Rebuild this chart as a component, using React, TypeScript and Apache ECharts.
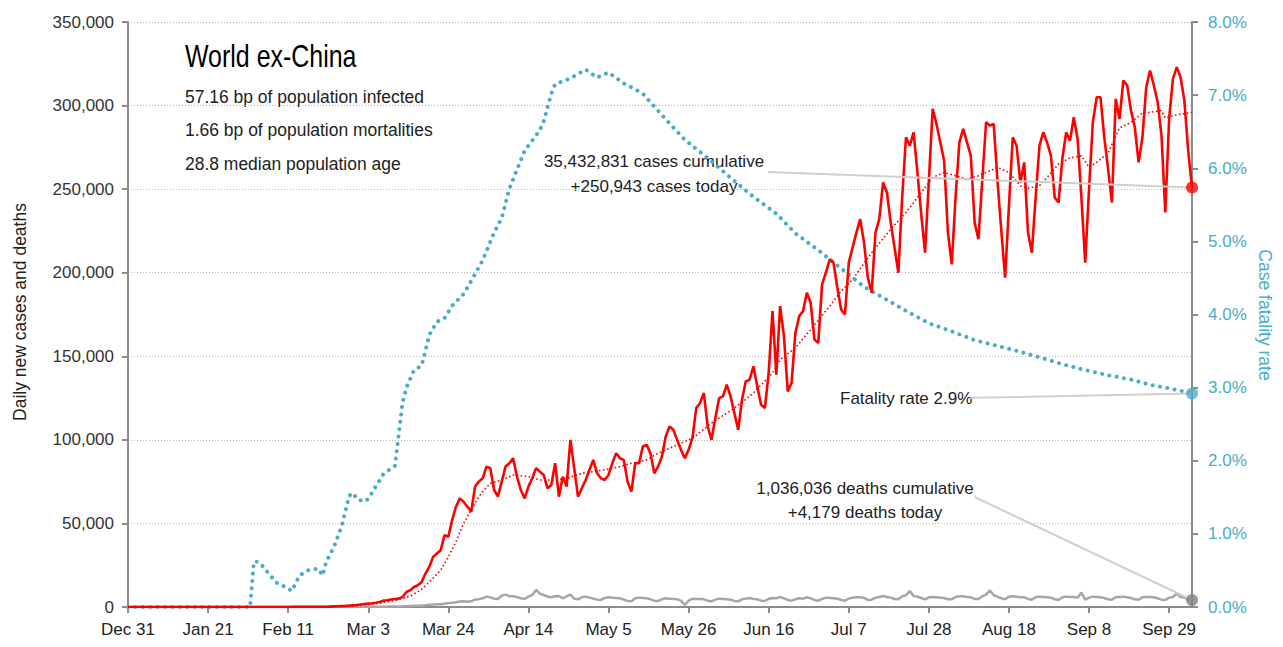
import React, { useEffect, useRef } from "react";
import * as echarts from "echarts";

// ---------- data ----------
// x: days since Dec 31, 2019 (0..279 = Dec 31 .. Oct 5)
const xTickLabels = ["Dec 31", "Jan 21", "Feb 11", "Mar 3", "Mar 24", "Apr 14", "May 5", "May 26", "Jun 16", "Jul 7", "Jul 28", "Aug 18", "Sep 8", "Sep 29"];

const dailyCases = [
  0, 0, 0, 0, 0, 0, 0, 0, 0, 0, 0, 0, 0, 0, 0, 0, 0, 0, 0, 0, 0,
  1, 2, 2, 3, 5, 6, 8, 10, 12, 14, 15,
  15, 20, 20, 25, 25, 30, 30, 35, 35, 40, 40, 45, 45, 50, 50, 55, 60, 60, 70,
  90, 150, 250, 350, 450, 550, 650, 800, 1000, 1200,
  1500, 1800, 2000, 2200, 2500, 3000, 3800, 4000, 4500, 4800, 5000, 6000, 9000, 10000, 12000, 13000, 15000,
  20000, 24000, 30000, 32000, 34000, 43000, 42000, 52000, 60000, 65000, 63000, 60000, 57000,
  72000, 75000, 77000, 84000, 83000, 70000, 66000, 75000, 84000, 86000,
  89000, 78000, 70000, 65000, 72000, 77000, 83000, 81000, 79000, 71000,
  73000, 86000, 66000, 78000, 72000, 100000, 83000, 66000, 71000, 76000,
  82000, 88000, 80000, 77000, 76000, 79000, 86000, 92000, 89000, 88000,
  75000, 69000, 86000, 86000, 96000, 97000, 92000, 80000, 84000, 90000,
  102000, 108000, 106000, 100000, 94000, 89000, 94000, 101000, 119000, 122000,
  128000, 108000, 100000, 113000, 125000, 126000, 133000, 126000, 116000, 106000,
  124000, 135000, 136000, 144000, 132000, 121000, 119000, 140000, 177000, 139000,
  180000, 162000, 129000, 134000, 164000, 174000, 177000, 188000, 182000, 160000,
  158000, 193000, 200000, 208000, 206000, 191000, 178000, 175000, 206000, 215000,
  224000, 232000, 218000, 197000, 188000, 224000, 232000, 254000, 248000, 230000,
  215000, 200000, 245000, 281000, 276000, 284000, 260000, 235000, 212000, 255000,
  298000, 289000, 278000, 267000, 224000, 205000, 245000, 278000, 286000, 278000,
  270000, 230000, 220000, 255000, 290000, 288000, 289000, 255000, 225000, 197000,
  240000, 281000, 276000, 254000, 266000, 224000, 212000, 245000, 276000, 284000,
  278000, 270000, 245000, 242000, 268000, 284000, 279000, 293000, 280000, 245000,
  206000, 250000, 290000, 305000, 305000, 281000, 262000, 242000, 304000, 292000,
  315000, 312000, 297000, 287000, 266000, 281000, 311000, 321000, 312000, 302000,
  282000, 236000, 292000, 316000, 323000, 317000, 303000, 273000, 250943,
];

const dailyDeaths = [
  0, 0, 0, 0, 0, 0, 0, 0, 0, 0, 0, 0, 0, 0, 0, 0, 0, 0, 0, 0, 0, 0, 0, 0, 0,
  0, 0, 0, 0, 0, 0, 0, 0, 0, 0, 0, 0, 0, 0, 0, 0, 0, 0, 0, 0, 0, 0, 0, 0, 0,
  5, 10, 12, 20, 25, 30, 40, 50, 55, 60, 65,
  70, 80, 90, 100, 120, 150, 180, 220, 260, 300,
  350, 400, 500, 600, 700, 800, 950, 1100, 1300, 1500,
  1700, 1600, 2000, 2400, 2500, 2900, 3300, 3500, 3100, 3400,
  4400, 4700, 5200, 6200, 5800, 5000, 4800, 6800, 7400, 6500,
  6500, 6000, 5200, 4800, 6200, 7200, 10200, 8000, 7200, 6300,
  5800, 6400, 6600, 5200, 6400, 7400, 5000, 4600, 5800, 6200,
  5600, 5000, 4400, 4200, 5400, 5800, 5600, 5400, 5200, 4400,
  3600, 3400, 5200, 5600, 5400, 5200, 4600, 3800, 3600, 4600,
  5200, 5000, 4800, 4600, 3800, 1200, 3800, 5000, 4800, 4800,
  4600, 3800, 3400, 4400, 5000, 4800, 4600, 4400, 3600, 3400,
  4600, 5000, 5400, 4800, 4600, 3800, 3600, 4800, 5400, 5200,
  6000, 5200, 4200, 3800, 4600, 5200, 5000, 5800, 5200, 4200,
  3800, 4800, 5600, 5400, 5200, 5000, 4200, 3800, 5000, 5600,
  5800, 5800, 5400, 4200, 4400, 5600, 6000, 6600, 6000, 5600,
  4800, 4600, 6400, 7000, 9600, 6600, 6200, 5400, 4600, 5800,
  6000, 5800, 5600, 5400, 4600, 4600, 6000, 6400, 6400, 6000,
  5800, 4800, 4800, 6400, 7400, 10000, 7000, 6200, 5200, 4600,
  6200, 6400, 6200, 5800, 5800, 4800, 4400, 5800, 6200, 6000,
  5800, 5600, 4600, 4200, 5800, 6200, 6000, 6000, 5600, 8600,
  4400, 5600, 6200, 6000, 5800, 5400, 4600, 4400, 5800, 6000,
  6200, 5800, 5400, 4600, 4400, 5800, 6000, 6000, 5800, 5200,
  4400, 4200, 5600, 6000, 8000, 6000, 5600, 4600, 4179,
];

// 7-day average of cases, read at sampled days: [day, value]
const casesAverage = [
  [0, 0], [50, 0], [58, 300], [62, 1200], [66, 2300], [70, 3800], [74, 6500], [77, 10500], [79, 15000],
  [82, 22000], [84, 30000], [86, 39000], [88, 50000], [90, 58000], [92, 66000], [93, 69000], [95, 74000],
  [98, 76000], [101, 79000], [105, 78000], [108, 76000], [112, 76000], [115, 77000], [119, 80000],
  [122, 81000], [126, 82500], [129, 84000], [132, 86000], [136, 88000], [139, 92000], [144, 97000],
  [148, 101000], [153, 110000], [159, 119000], [164, 128000], [169, 140000], [171, 148000], [175, 155000],
  [179, 166000], [184, 180000], [187, 189000], [190, 196000], [195, 212000], [200, 226000], [204, 236000],
  [207, 245000], [209, 251000], [211, 257000], [214, 260000], [217, 258000], [220, 256000], [223, 258000],
  [226, 261000], [228, 263000], [231, 260000], [234, 252000], [236, 250500], [239, 252000], [241, 257000],
  [244, 265000], [247, 268600], [250, 270000], [252, 263000], [254, 266000], [257, 271600], [260, 286600],
  [263, 290000], [266, 295600], [268, 296000], [271, 297000], [272, 292600], [274, 294000], [279, 296000],
];

// case fatality rate (%), read at sampled days: [day, percent]
const fatalityRate = [
  [0, 0], [32, 0], [33, 0.62], [34, 0.62], [35, 0.58], [37, 0.45], [39, 0.33], [41, 0.28], [43, 0.22],
  [44, 0.33], [45, 0.43], [47, 0.5], [49, 0.52], [50, 0.52], [51, 0.43], [52, 0.62], [54, 0.82], [56, 1.1],
  [58, 1.52], [59, 1.56], [60, 1.48], [62, 1.44], [63, 1.48], [65, 1.65], [67, 1.82], [70, 1.93], [72, 2.8],
  [73, 3.0], [75, 3.24], [77, 3.3], [79, 3.72], [81, 3.9], [83, 3.95], [85, 4.12], [88, 4.28], [90, 4.46],
  [93, 4.74], [96, 5.12], [98, 5.32], [100, 5.72], [102, 5.98], [104, 6.24], [106, 6.38], [108, 6.52],
  [109, 6.64], [111, 7.02], [112, 7.15], [116, 7.23], [120, 7.35], [123, 7.24], [126, 7.31], [130, 7.16],
  [133, 7.08], [135, 7.02], [141, 6.67], [146, 6.39], [152, 6.14], [158, 5.87], [164, 5.61], [170, 5.38],
  [175, 5.11], [181, 4.88], [187, 4.63], [193, 4.38], [199, 4.2], [204, 4.05], [210, 3.88], [216, 3.77],
  [222, 3.65], [228, 3.57], [234, 3.49], [240, 3.4], [245, 3.32], [251, 3.24], [257, 3.17], [263, 3.11],
  [268, 3.04], [274, 2.98], [279, 2.92],
];

const titleText = "World ex-China";
const infoLines = ["57.16 bp of population infected", "1.66 bp of population mortalities", "28.8 median population age"];
const casesNote = ["35,432,831 cases cumulative", "+250,943 cases today"];
const fatalityNote = "Fatality rate 2.9%";
const deathsNote = ["1,036,036 deaths cumulative", "+4,179 deaths today"];
const leftAxisName = "Daily new cases and deaths";
const rightAxisName = "Case fatality rate";

// leader-line start points in data space
const casesLeaderStart = [167.8, 260300];
const fatalityLeaderStart = [220.8, 2.86];
const deathsLeaderStart = [222, 65800];

const FONT = "'Liberation Sans', Arial, sans-serif";
const RED = "#ff0000";
const BLUE = "#4bacc6";
const GRAY = "#a6a6a6";
const AXIS = "#8c8c8c";

export default function App() {
  const ref = useRef<HTMLDivElement>(null);

  useEffect(() => {
    if (!ref.current) return;
    const chart = echarts.init(ref.current, undefined, { renderer: "svg" });
    const lastDay = dailyCases.length - 1;
    const casesData = dailyCases.map((v, i) => [i, v]);
    const deathsData = dailyDeaths.map((v, i) => [i, v]);
    const lastCases = casesData[casesData.length - 1];
    const lastDeaths = deathsData[deathsData.length - 1];
    const lastRate = fatalityRate[fatalityRate.length - 1];
    const tickValues = xTickLabels.map((_, i) => i * 21);

    const leader = (from: number[], to: number[]) => ({
      silent: true,
      symbol: ["none", "none"],
      label: { show: false },
      lineStyle: { color: "#cfcfcf", width: 2, type: "solid" },
      emphasis: { disabled: true },
      data: [[{ coord: from }, { coord: to }]],
    });

    const txt = (text: string, x: number, y: number, opts: any = {}) => ({
      type: "text",
      x,
      y,
      silent: true,
      scaleX: opts.scaleX || 1,
      style: {
        text,
        fill: opts.fill || "#222",
        font: opts.font || `17px ${FONT}`,
        textAlign: opts.align || "left",
        textVerticalAlign: "middle",
      },
      rotation: opts.rotation || 0,
    });

    chart.setOption({
      animation: false,
      textStyle: { fontFamily: FONT },
      grid: { left: 128, right: 91, top: 22, bottom: 40, outerBoundsMode: "none" },
      xAxis: {
        type: "value",
        min: 0,
        max: lastDay,
        interval: 21,
        axisLine: { show: true, lineStyle: { color: AXIS, width: 2 } },
        axisTick: { show: true, length: 6, customValues: tickValues, lineStyle: { color: AXIS, width: 2 } },
        axisLabel: {
          customValues: tickValues,
          color: "#222",
          fontSize: 17,
          margin: 14,
          formatter: (v: number) => xTickLabels[Math.round(v / 21)] || "",
        },
        splitLine: { show: false },
      },
      yAxis: [
        {
          type: "value",
          min: 0,
          max: 350000,
          interval: 50000,
          axisLine: { show: true, lineStyle: { color: AXIS, width: 2 } },
          axisTick: { show: true, length: 6, lineStyle: { color: AXIS, width: 2 } },
          axisLabel: {
            color: "#333",
            fontSize: 17,
            margin: 14,
            formatter: (v: number) => v.toLocaleString("en-US"),
          },
          splitLine: { show: true, lineStyle: { color: "#b5b5b5", width: 1, type: [1, 2] } },
        },
        {
          type: "value",
          min: 0,
          max: 8,
          interval: 1,
          position: "right",
          axisLine: { show: true, lineStyle: { color: AXIS, width: 2 } },
          axisTick: { show: true, length: 6, lineStyle: { color: AXIS, width: 2 } },
          axisLabel: {
            color: BLUE,
            fontSize: 17,
            margin: 16,
            formatter: (v: number) => v.toFixed(1) + "%",
          },
          splitLine: { show: false },
        },
      ],
      series: [
        {
          name: "Deaths",
          type: "line",
          data: deathsData,
          showSymbol: false,
          lineStyle: { color: GRAY, width: 2.5 },
          z: 2,
          markLine: leader(deathsLeaderStart, lastDeaths),
        },
        {
          name: "Cases 7-day average",
          type: "line",
          data: casesAverage,
          showSymbol: false,
          lineStyle: { color: RED, width: 1.6, type: [1.6, 2.4] },
          z: 3,
        },
        {
          name: "Cases",
          type: "line",
          data: casesData,
          showSymbol: false,
          lineStyle: { color: RED, width: 2.6 },
          z: 4,
          markLine: leader(casesLeaderStart, lastCases),
        },
        {
          name: "Fatality rate",
          type: "line",
          yAxisIndex: 1,
          data: fatalityRate,
          showSymbol: false,
          lineStyle: { color: BLUE, width: 4, type: [0.01, 7.4], cap: "round" },
          z: 3,
          markLine: leader(fatalityLeaderStart, lastRate),
        },
        {
          type: "scatter",
          data: [lastCases],
          symbolSize: 12,
          itemStyle: { color: RED },
          z: 6,
          silent: true,
        },
        {
          type: "scatter",
          data: [lastDeaths],
          symbolSize: 12,
          itemStyle: { color: "#808080" },
          z: 6,
          silent: true,
        },
        {
          type: "scatter",
          yAxisIndex: 1,
          data: [lastRate],
          symbolSize: 12,
          itemStyle: { color: BLUE },
          z: 6,
          silent: true,
        },
      ],
      graphic: [
        txt(titleText, 185, 56, { font: `32px ${FONT}`, fill: "#000", scaleX: 0.78 }),
        txt(infoLines[0], 185, 97, { font: `18.5px ${FONT}`, scaleX: 0.945 }),
        txt(infoLines[1], 185, 130, { font: `18.5px ${FONT}`, scaleX: 0.945 }),
        txt(infoLines[2], 185, 164, { font: `18.5px ${FONT}`, scaleX: 0.945 }),
        txt(casesNote[0], 654, 161, { align: "center" }),
        txt(casesNote[1], 654, 186, { align: "center" }),
        txt(fatalityNote, 840, 398),
        txt(deathsNote[0], 865, 488, { align: "center" }),
        txt(deathsNote[1], 865, 512, { align: "center" }),
        txt(leftAxisName, 20, 312, { align: "center", rotation: Math.PI / 2, font: `17.5px ${FONT}` }),
        txt(rightAxisName, 1265, 315, { align: "center", rotation: -Math.PI / 2, fill: BLUE, font: `17.5px ${FONT}` }),
      ],
    });

    return () => chart.dispose();
  }, []);

  return <div ref={ref} style={{ position: "absolute", left: 0, top: 0, width: 1283, height: 647 }} />;
}
